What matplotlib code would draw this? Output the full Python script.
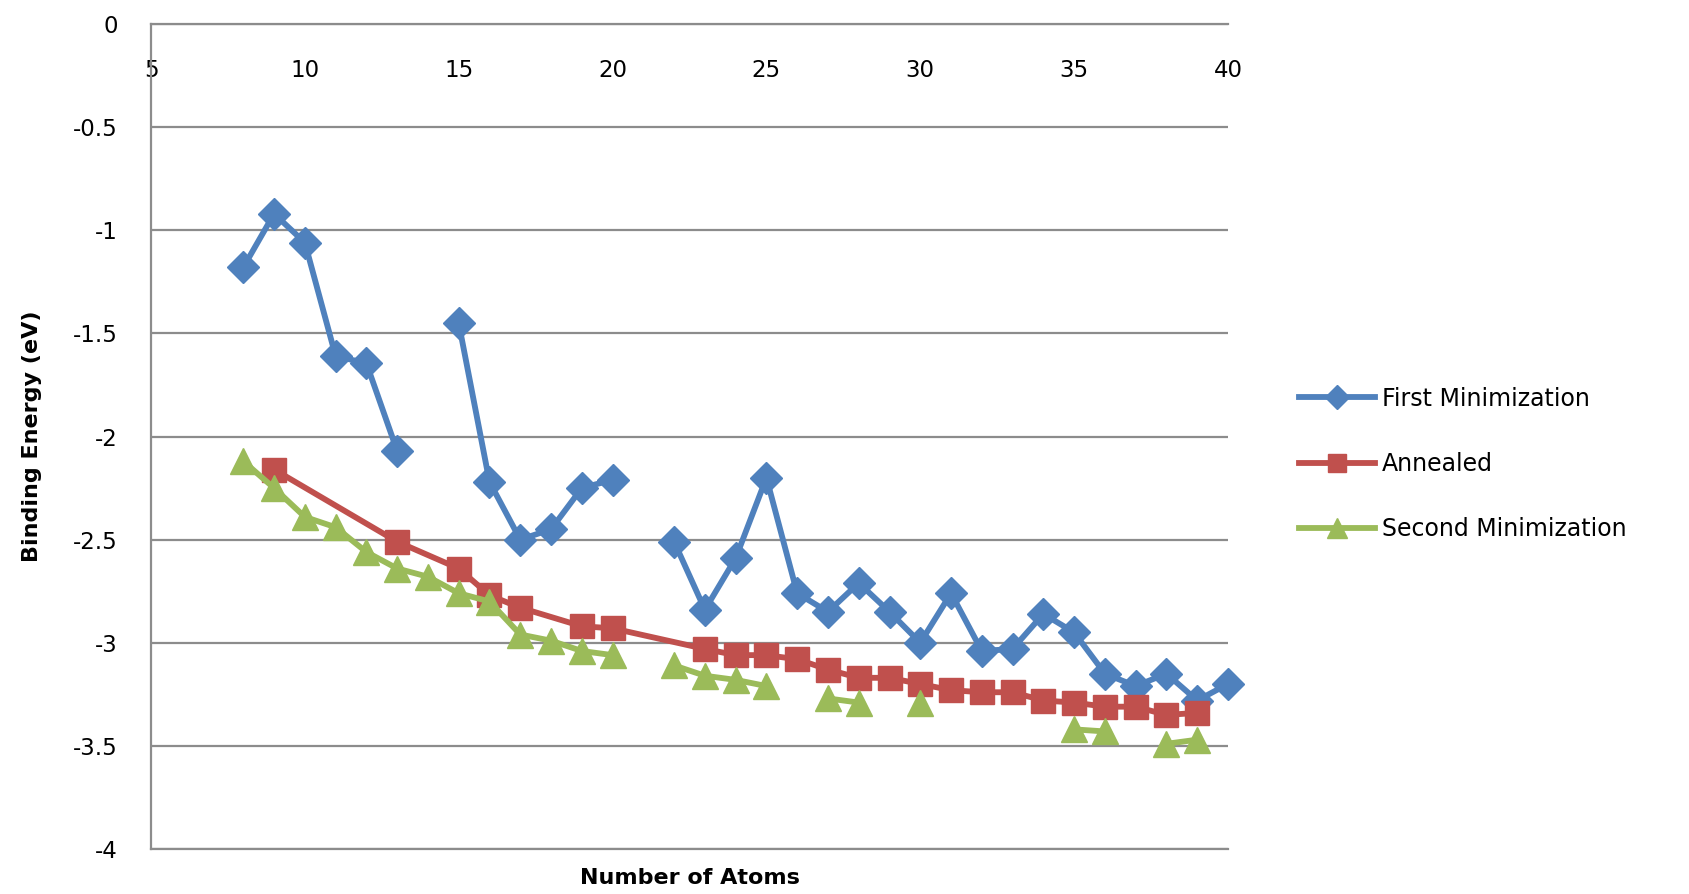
import numpy as np
import matplotlib
matplotlib.use("Agg")
from matplotlib import pyplot as plt

nan = np.nan

# First Minimization (gaps at 14 and 21)
first_x = list(range(8, 41))
first_y = [-1.18, -0.92, -1.06, -1.61, -1.645, -2.07, nan, -1.45, -2.22, -2.50,
           -2.45, -2.25, -2.21, nan, -2.51, -2.84, -2.59, -2.20, -2.76, -2.85,
           -2.71, -2.85, -3.00, -2.76, -3.04, -3.03, -2.86, -2.95, -3.15, -3.21,
           -3.15, -3.28, -3.20]

# Annealed
ann_x = [9, 13, 15, 16, 17, 19, 20, 23, 24, 25, 26, 27, 28, 29, 30, 31, 32, 33,
         34, 35, 36, 37, 38, 39]
ann_y = [-2.16, -2.51, -2.64, -2.77, -2.83, -2.92, -2.93, -3.03, -3.06, -3.06,
         -3.08, -3.13, -3.17, -3.17, -3.20, -3.23, -3.24, -3.24, -3.28, -3.29,
         -3.31, -3.31, -3.35, -3.34]

# Second Minimization (gaps where no value)
sec_x = list(range(8, 40))
sec_y = [-2.12, -2.25, -2.39, -2.44, -2.56, -2.64, -2.68, -2.76, -2.80, -2.96,
         -2.99, -3.04, -3.06, nan, -3.11, -3.16, -3.18, -3.21, nan, -3.27,
         -3.29, nan, -3.29, nan, nan, nan, nan, -3.42, -3.43, nan,
         -3.49, -3.47]

fig = plt.figure(figsize=(16.89, 8.94), dpi=100)
ax = fig.add_axes([151/1689, 1 - 849/894, (1228-151)/1689, (849-24)/894])

l1, = ax.plot(first_x, first_y, color='#4F81BD', lw=4.2, marker='D', ms=16,
              label='First Minimization')
l2, = ax.plot(ann_x, ann_y, color='#C0504D', lw=4.2, marker='s', ms=17,
              label='Annealed')
l3, = ax.plot(sec_x, sec_y, color='#9BBB59', lw=4.2, marker='^', ms=19,
              label='Second Minimization')
for l in (l1, l2, l3):
    l.set_clip_on(False)

ax.set_xlim(5, 40)
ax.set_ylim(-4, 0)
ax.set_yticks(np.arange(-4, 0.01, 0.5))
ax.set_yticklabels(['-4', '-3.5', '-3', '-2.5', '-2', '-1.5', '-1', '-0.5', '0'])
ax.set_xticks(range(5, 41, 5))
ax.grid(axis='y', color='#8c8c8c', lw=1.6)
ax.set_axisbelow(True)
ax.spines['right'].set_visible(False)
for s in ['left', 'top', 'bottom']:
    ax.spines[s].set_color('#8c8c8c')
    ax.spines[s].set_linewidth(1.6)

# x axis crosses at 0 (top), labels hang below it
ax.xaxis.tick_top()
ax.tick_params(axis='both', length=0, labelsize=16.5)
ax.tick_params(axis='x', pad=-42)
ax.tick_params(axis='y', pad=24)

ax.xaxis.set_label_position('bottom')
ax.set_xlabel('Number of Atoms', fontsize=16, fontweight='bold', labelpad=14)
ax.set_ylabel('Binding Energy (eV)', fontsize=16, fontweight='bold', labelpad=22)

fig.legend(handles=[l1, l2, l3], loc='center left', bbox_to_anchor=(1278/1689, 1 - 464/894),
           frameon=False, fontsize=17, handlelength=3.2, handletextpad=0.3,
           labelspacing=1.75, markerscale=0.75)

fig.savefig('out.png', dpi=100)
